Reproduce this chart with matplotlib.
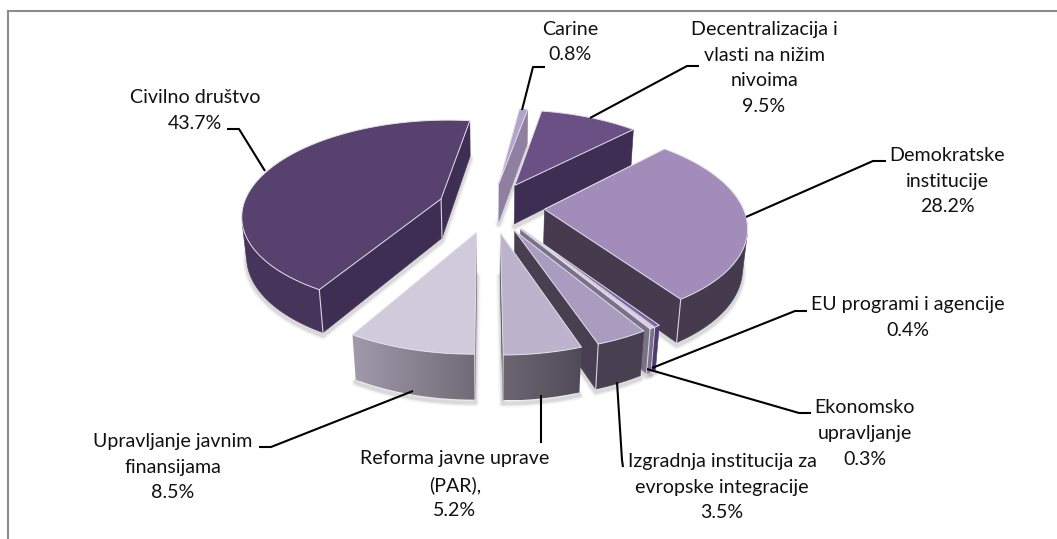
#!/usr/bin/env python3
import matplotlib
matplotlib.use("Agg")
import matplotlib.pyplot as plt
from matplotlib.colors import to_rgb
from matplotlib.patches import Polygon
import numpy as np

# chart data, clockwise from the first slice
categories = [
    "Carine",
    "Decentralizacija i\nvlasti na nižim\nnivoima",
    "Demokratske\ninstitucije",
    "EU programi i agencije",
    "Ekonomsko\nupravljanje",
    "Izgradnja institucija za\nevropske integracije",
    "Reforma javne uprave\n(PAR),",
    "Upravljanje javnim\nfinansijama",
    "Civilno društvo",
]
shares = [0.8, 9.5, 28.2, 0.4, 0.3, 3.5, 5.2, 8.5, 43.7]

# styles per slice: top face, rim left, rim right, flat cut faces
top_colors = ["#B3A3CA", "#6B5086", "#A28DBA", "#7D62A3", "#D8D0E4", "#A99CBF", "#BDB3CC", "#D0CBDB", "#57426F"]
side_a = ["#8F7FA0", "#42305A", "#463B4E", "#4D3C70", "#7A7288", "#484050", "#6A6672", "#A09AAA", "#46345A"]
side_b = ["#8F7FA0", "#42305A", "#463B4E", "#4D3C70", "#7A7288", "#484050", "#504B58", "#6F6C78", "#46345A"]
flat_colors = ["#8F7FA0", "#3F2E54", "#463B4E", "#4D3C70", "#7A7288", "#484050", "#504B58", "#6F6C78", "#3F2E54"]

# layout in pixels: label centre and leader line
label_xy = [(570, 42), (764, 68), (947, 181), (908, 317.5), (865, 433.5), (722, 487), (455, 484.5), (173, 467), (195, 110.5)]
leaders = [
    [(522, 110), (533, 67), (545, 67)],
    [(590, 118), (687, 66), (699, 66)],
    [(746, 217), (873, 161), (886, 161)],
    [(652, 368), (795, 311), (807, 311)],
    [(647, 369), (799, 413), (811, 413)],
    [(617, 382), (622, 460), (623, 467)],
    [(541, 395), (541, 443)],
    [(413, 391), (271, 447), (259, 447)],
    [(265, 171), (239, 129), (227, 129)],
]

# pie geometry
ROTATION = 7.5
EXPLODE = 0.27
HEIGHT = 0.23
TILT = np.arcsin(0.472)
CAM_DIST = 5.6
FOCAL = 1110.0
CX, CY = 491.0, 207.0


def project(x, y, z):
    w = CAM_DIST + y * np.cos(TILT) - z * np.sin(TILT)
    v = y * np.sin(TILT) + z * np.cos(TILT)
    return CX + FOCAL * x / w, CY - FOCAL * v / w


def area(pts):
    p = np.array(pts)
    q = np.roll(p, -1, axis=0)
    return 0.5 * np.sum(p[:, 0] * q[:, 1] - q[:, 0] * p[:, 1])


fig = plt.figure(figsize=(10.57, 5.39), dpi=100)
ax = fig.add_axes([0, 0, 1, 1])
ax.axis("off")

# chart frame, only left and top fall inside the picture
ax.plot([7.5, 7.5, 1057], [539, 10.5, 10.5], color="#8C8C8C", lw=1.5, solid_joinstyle="miter", zorder=1)

total = sum(shares)
edges = ROTATION + np.concatenate([[0], np.cumsum(shares)]) / total * 360.0

slices = []
for i in range(len(shares)):
    t0, t1 = edges[i], edges[i + 1]
    mid = np.radians((t0 + t1) / 2)
    ox, oy = EXPLODE * np.sin(mid), EXPLODE * np.cos(mid)
    th = np.radians(np.linspace(t0, t1, max(int(t1 - t0) * 2, 4) + 1))
    wx = np.concatenate([[ox], ox + np.sin(th)])
    wy = np.concatenate([[oy], oy + np.cos(th)])
    slices.append((np.cos(mid), i, wx, wy))

# soft shadow under the pie
for _, i, wx, wy in slices:
    sx, sy = project(wx, wy, -HEIGHT)
    for lw, al in [(6, 0.03), (4, 0.05), (2.5, 0.07)]:
        ax.add_patch(Polygon(np.column_stack([sx, sy + 3]), closed=True, fc="none", ec=(0, 0, 0, al), lw=lw,
                             joinstyle="round", zorder=2))

# back slices first
z = 10
for _, i, wx, wy in sorted(slices, key=lambda s: -s[0]):
    tx, ty = project(wx, wy, 0.0)
    bx, by = project(wx, wy, -HEIGHT)
    n = len(tx)

    def quad(a, b):
        return [(tx[a], ty[a]), (tx[b], ty[b]), (bx[b], by[b]), (bx[a], by[a])]

    # flat cut faces
    first = quad(0, 1)
    last = quad(n - 1, 0)
    first_vis = area(first) < 0
    last_vis = area(last) < 0
    for face, vis in [(first, first_vis), (last, last_vis)]:
        if vis:
            z += 1
            ax.add_patch(Polygon(face, closed=True, fc=flat_colors[i], ec=flat_colors[i], lw=0.4, zorder=z))

    # outer rim, only the run of pieces that faces the viewer
    seg_vis = [area(quad(k, k + 1)) < 0 for k in range(1, n - 1)]
    idx = [k for k, vis in zip(range(1, n - 1), seg_vis) if vis]
    if idx:
        a, b = idx[0], idx[-1] + 1
        outline = np.column_stack([np.r_[tx[a:b + 1], bx[a:b + 1][::-1]], np.r_[ty[a:b + 1], by[a:b + 1][::-1]]])
        z += 1
        if side_a[i] == side_b[i]:
            ax.add_patch(Polygon(outline, closed=True, fc=side_a[i], ec=side_a[i], lw=0.4, zorder=z))
        else:
            left, right = np.array(to_rgb(side_a[i])), np.array(to_rgb(side_b[i]))
            grad = np.linspace(left, right, 64)[np.newaxis, :, :]
            clip = Polygon(outline, closed=True, transform=ax.transData)
            im = ax.imshow(grad, extent=(outline[:, 0].min(), outline[:, 0].max(), outline[:, 1].max(), outline[:, 1].min()),
                           aspect="auto", interpolation="bilinear", zorder=z)
            im.set_clip_path(clip)

    # light vertical corners between two visible faces
    corners = []
    if first_vis and seg_vis[0]:
        corners.append(1)
    if last_vis and seg_vis[-1]:
        corners.append(n - 1)
    if first_vis and last_vis:
        corners.append(0)
    z += 1
    for k in corners:
        ax.plot([tx[k], bx[k]], [ty[k], by[k]], color="#D9D5E0", lw=0.8, zorder=z)

    z += 1
    ax.add_patch(Polygon(np.column_stack([tx, ty]), closed=True, fc=top_colors[i], ec="#E4E0EA", lw=0.7,
                         joinstyle="round", zorder=z))

# labels and leader lines
z += 1
for name, val, (lx, ly), line in zip(categories, shares, label_xy, leaders):
    xs, ys = zip(*line)
    ax.plot(xs, ys, color="black", lw=1.5, solid_capstyle="butt", solid_joinstyle="round", zorder=z)
    ax.text(lx, ly, f"{name}\n{val}%", ha="center", va="center", multialignment="center",
            fontsize=14.1, family=["Lato", "DejaVu Sans"], color="#111111", linespacing=1.62, zorder=z)

ax.set_xlim(0, 1057)
ax.set_ylim(539, 0)
fig.savefig("out.png", dpi=100)
